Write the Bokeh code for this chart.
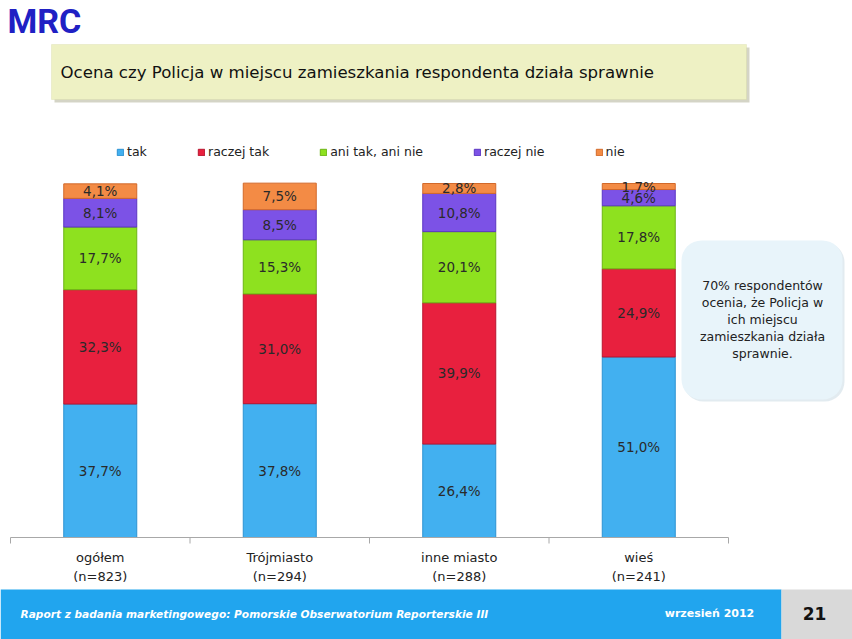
from bokeh.plotting import figure
from bokeh.models import (ColumnDataSource, Range1d, Legend, LegendItem,
                          BoxAnnotation, Label)
from bokeh.core.properties import value
from bokeh.embed import file_html
from bokeh.resources import INLINE

# ---------------- data ----------------
categories = ["ogółem", "Trójmiasto", "inne miasto", "wieś"]
sample_sizes = ["(n=823)", "(n=294)", "(n=288)", "(n=241)"]
series_names = ["tak", "raczej tak", "ani tak, ani nie", "raczej nie", "nie"]
tak = [37.7, 37.8, 26.4, 51.0]
raczej_tak = [32.3, 31.0, 39.9, 24.9]
ani_tak_ani_nie = [17.7, 15.3, 20.1, 17.8]
raczej_nie = [8.1, 8.5, 10.8, 4.6]
nie = [4.1, 7.5, 2.8, 1.7]
title_text = "Ocena czy Policja w miejscu zamieszkania respondenta działa sprawnie"
callout_lines = ["70% respondentów", "ocenia, że Policja w", "ich miejscu",
                 "zamieszkania działa", "sprawnie."]
footer_text = "Raport z badania marketingowego: Pomorskie Obserwatorium Reporterskie III"
footer_date = "wrzesień 2012"
page_number = "21"

fills = ["#42b0f0", "#e8203e", "#8ee11f", "#7c52e6", "#f38b45"]
edges = ["#2c92d2", "#b8142f", "#6cb514", "#5b36c2", "#d2692a"]

# ---------------- page geometry (pixel -> data helpers) ----------------
W, H = 852, 639
PX_PER_CAT = 179.5
AX_LEFT_PX = 10
ZERO_PY = 537
PX_PER_PCT = 3.54


def dx(px):
    return (px - AX_LEFT_PX) / PX_PER_CAT


def dy(py):
    return (ZERO_PY - py) / PX_PER_PCT


p = figure(width=W, height=H, output_backend="svg", toolbar_location=None,
           x_range=Range1d(dx(0), dx(W)), y_range=Range1d(dy(H), dy(0)),
           min_border=0, min_border_left=0, min_border_right=0,
           min_border_top=0, min_border_bottom=0)
p.axis.visible = False
p.grid.visible = False
p.outline_line_color = None
p.background_fill_color = "white"
p.border_fill_color = "white"

FONT = "DejaVu Sans"

# ---------------- stacked bars ----------------
xs = [i + 0.5 for i in range(len(categories))]
series = [tak, raczej_tak, ani_tak_ani_nie, raczej_nie, nie]
data = {"x": xs, "cat": categories}
for name, vals in zip(series_names, series):
    data[name] = vals
src = ColumnDataSource(data)
bar_w = 73 / PX_PER_CAT
renderers = p.vbar_stack(series_names, x="x", width=bar_w, source=src,
                         fill_color=fills, line_color=edges, line_width=1)

# labels centered in segments
lx, ly, lt = [], [], []
for i, x in enumerate(xs):
    base = 0.0
    for vals in series:
        v = vals[i]
        lx.append(x)
        ly.append(base + v / 2)
        lt.append(f"{v:.1f}".replace(".", ",") + "%")
        base += v
p.text(x=lx, y=ly, text=lt, text_align="center", text_baseline="middle",
       text_font=value(FONT), text_font_size="13.5px", text_color="#2a2a2a")

# ---------------- category axis ----------------
n = len(categories)
p.segment(x0=[0], y0=[0], x1=[n], y1=[0], line_color="#a8a8a8", line_width=1)
p.segment(x0=list(range(n + 1)), y0=[0] * (n + 1), x1=list(range(n + 1)),
          y1=[dy(543)] * (n + 1), line_color="#a8a8a8", line_width=1)
p.text(x=xs, y=[dy(557)] * n, text=categories, text_align="center",
       text_baseline="middle", text_font=value(FONT), text_font_size="13px",
       text_color="#222222")
p.text(x=xs, y=[dy(576)] * n, text=sample_sizes, text_align="center",
       text_baseline="middle", text_font=value(FONT), text_font_size="13px",
       text_color="#222222")

# ---------------- legend ----------------
legend = Legend(items=[LegendItem(label=nm, renderers=[r])
                       for nm, r in zip(series_names, renderers)],
                orientation="horizontal", location=(116, 480),
                glyph_width=8, glyph_height=8, label_standoff=3, spacing=50,
                padding=0, margin=0, border_line_color=None,
                background_fill_alpha=0, label_text_font=FONT,
                label_text_font_size="12.5px", label_text_color="#222222",
                label_height=12)
p.add_layout(legend)

# ---------------- title box ----------------
p.add_layout(BoxAnnotation(left=dx(54), right=dx(749), top=dy(47), bottom=dy(102),
                           fill_color="#c9c9b8", fill_alpha=0.8, line_color=None,
                           level="underlay"))
p.add_layout(BoxAnnotation(left=dx(51), right=dx(746), top=dy(44), bottom=dy(99),
                           fill_color="#eef1c4", fill_alpha=1.0,
                           line_color="#cfd39a", line_width=1, level="underlay"))
p.add_layout(Label(x=dx(60), y=dy(72), text=title_text, text_baseline="middle",
                   text_font=FONT, text_font_size="16.6px", text_color="#111111"))

# ---------------- logo ----------------
p.add_layout(Label(x=dx(7), y=dy(20), text="MRC", text_baseline="middle",
                   text_font="Roboto", text_font_style="bold",
                   text_font_size="34px", text_color="#2020c4"))

# ---------------- callout ----------------
p.add_layout(BoxAnnotation(left=dx(683), right=dx(844), top=dy(242), bottom=dy(401),
                           fill_color="#d5e3ea", fill_alpha=0.7, line_color=None,
                           border_radius=20, level="underlay"))
p.add_layout(BoxAnnotation(left=dx(681), right=dx(842), top=dy(240), bottom=dy(399),
                           fill_color="#e8f4fa", fill_alpha=1.0, line_color=None,
                           border_radius=20, level="underlay"))
for k, line in enumerate(callout_lines):
    p.add_layout(Label(x=dx(762), y=dy(285 + 17 * k), text=line,
                       text_align="center", text_baseline="middle",
                       text_font=FONT, text_font_size="12.5px",
                       text_color="#222222"))

# ---------------- footer ----------------
p.add_layout(BoxAnnotation(left=dx(0), right=dx(781), top=dy(589), bottom=dy(H),
                           fill_color="#21a5ee", fill_alpha=1.0, line_color=None))
p.add_layout(BoxAnnotation(left=dx(781), right=dx(W), top=dy(589), bottom=dy(H),
                           fill_color="#d9d9d9", fill_alpha=1.0, line_color=None))
p.add_layout(Label(x=dx(20), y=dy(613), text=footer_text, text_baseline="middle",
                   text_font=FONT, text_font_style="bold italic",
                   text_font_size="10.6px", text_color="white"))
p.add_layout(Label(x=dx(709), y=dy(613), text=footer_date, text_baseline="middle",
                   text_align="center", text_font=FONT, text_font_style="bold",
                   text_font_size="11px", text_color="white"))
p.add_layout(Label(x=dx(814), y=dy(613), text=page_number, text_baseline="middle",
                   text_align="center", text_font=FONT, text_font_style="bold",
                   text_font_size="17px", text_color="#111111"))

open("out.html", "w").write(file_html(p, INLINE))
